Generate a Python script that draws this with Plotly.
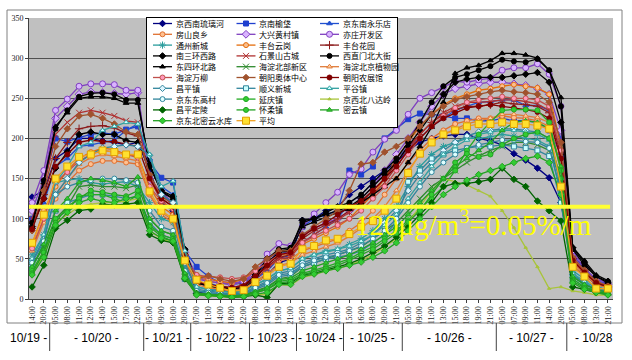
import plotly.graph_objects as go

# ---------------- data ----------------
tick_labels = ["14:00", "20:00", "05:00", "08:00", "11:00", "12:00", "14:00", "15:00", "17:00", "22:00",
               "05:00", "09:00", "10:00", "20:00", "07:00", "11:00", "14:00", "18:00", "22:00",
               "08:00", "14:00", "19:00", "21:00", "05:00", "09:00", "12:00", "20:00",
               "15:00", "16:00", "18:00", "20:00", "21:00",
               "05:00", "09:00", "11:00", "13:00", "15:00", "18:00", "19:00", "21:00",
               "05:00", "07:00", "09:00", "11:00", "14:00", "20:00",
               "05:00", "08:00", "13:00", "21:00"]
date_labels = ["10/19 -", "- 10/20 -", "- 10/21 -", "- 10/22 -", "- 10/23 -",
               "- 10/24 -", "- 10/25 -", "- 10/26 -", "- 10/27 -", "- 10/28"]
date_counts = [2, 8, 4, 5, 4, 4, 5, 8, 6, 4]

names = ["京西南琉璃河", "京南榆垡", "京东南永乐店", "房山良乡", "大兴黄村镇", "亦庄开发区",
         "通州新城", "丰台云岗", "丰台花园", "南三环西路", "石景山古城", "西直门北大街",
         "东四环北路", "海淀北部新区", "海淀北京植物园", "海淀万柳", "朝阳奥体中心", "朝阳农展馆",
         "昌平镇", "顺义新城", "平谷镇", "京东东高村", "延庆镇", "京西北八达岭",
         "昌平定陵", "怀柔镇", "密云镇", "京东北密云水库", "平均"]

s01 = [127,135,175,185,200,200,197,195,192,195, 160,120,110,50, 7,10,12,8,10,20,30,45,50, 98,100,110,115,130,140,150,160,170, 185,195,200,203,205,205,200,197, 192,181,173,163,151,120, 40,30,18,15]
s02 = [100,145,200,196,201,205,207,205,211,215, 170,151,145,60, 40,28,20,18,20,30,45,55,60, 90,100,105,110,160,155,165,200,212, 224,231,230,228,225,225,222,222, 225,222,222,220,210,180, 55,38,22,18]
s03 = [95,120,165,175,190,192,195,198,210,218, 175,140,130,55, 30,20,15,12,15,25,35,50,55, 70,80,90,100,120,130,145,160,175, 190,200,215,225,235,240,245,246, 248,248,241,241,235,200, 50,35,22,20]
s04 = [65,100,125,145,160,168,172,172,170,168, 130,105,95,45, 28,22,20,18,22,30,40,48,50, 60,65,70,75,85,95,110,130,150, 170,185,200,210,218,222,225,225, 228,226,225,222,215,160, 45,32,20,15]
s05 = [110,150,225,240,255,258,257,256,255,257, 150,133,115,58, 25,22,20,18,22,35,45,60,58, 80,88,95,100,110,125,140,160,180, 200,220,240,255,262,265,268,270, 270,268,266,262,255,210, 55,35,22,18]
s06 = [120,160,235,249,265,268,268,267,260,260, 148,133,120,60, 28,25,22,20,22,30,56,69,66, 90,106,120,133,155,162,183,199,210, 230,250,257,264,271,270,273,275, 285,288,288,293,280,240, 60,38,25,20]
s07 = [55,80,145,148,150,145,143,145,146,140, 120,100,95,40, 15,12,10,8,10,18,25,35,38, 50,55,60,62,68,75,85,100,115, 140,165,180,190,195,200,200,202, 205,203,200,198,190,130, 35,25,15,12]
s08 = [68,110,140,160,175,183,188,186,180,178, 140,115,105,48, 30,25,22,20,25,35,45,55,55, 68,75,82,90,100,115,130,150,175, 195,215,230,242,250,255,260,262, 265,267,265,263,255,190, 50,35,22,15]
s09 = [90,130,175,195,212,215,216,213,207,203, 155,125,115,55, 22,18,15,14,18,28,40,52,55, 75,85,92,100,110,120,135,150,170, 190,205,220,230,236,240,240,242, 245,243,242,240,232,180, 50,35,20,15]
s10 = [88,125,163,183,205,208,205,205,197,195, 167,135,128,62, 20,18,15,12,15,30,50,60,62, 98,100,105,110,115,125,140,155,170, 190,210,230,255,270,274,276,276, 276,278,280,282,270,220, 64,45,28,20]
s11 = [100,140,205,220,232,235,232,228,222,220, 150,122,110,50, 20,16,14,12,15,25,38,50,52, 70,80,90,98,108,118,130,145,165, 185,205,220,232,240,245,245,246, 248,248,246,243,235,185, 48,33,20,15]
s12 = [95,148,212,235,252,256,257,255,248,248, 165,135,125,60, 22,18,15,12,15,28,50,62,64, 95,100,108,115,120,130,145,160,175, 195,220,245,265,276,280,285,290, 298,296,295,299,285,240, 62,42,28,22]
s13 = [92,145,215,232,250,252,252,250,244,244, 168,133,125,58, 20,16,14,10,12,25,45,58,60, 90,96,102,108,112,120,130,140,150, 170,190,214,245,281,288,291,297, 306,306,304,300,285,251, 65,48,30,23]
s14 = [40,65,100,115,140,142,140,140,138,142, 100,85,80,35, 8,6,5,4,5,10,15,25,28, 40,45,50,55,60,65,75,85,95, 110,125,140,150,160,170,178,185, 190,195,195,192,185,150, 30,20,10,8]
s15 = [60,95,130,150,168,176,180,178,175,172, 130,108,98,45, 18,14,12,10,12,22,32,42,45, 55,60,65,70,78,88,100,115,135, 160,180,195,205,212,218,222,225, 230,230,228,226,220,165, 42,30,18,14]
s16 = [63,100,145,158,172,180,185,183,180,176, 140,122,112,50, 30,28,27,25,27,35,45,55,58, 70,78,85,92,100,110,125,140,160, 180,200,215,228,238,245,248,250, 252,250,250,248,240,185, 50,35,22,16]
s17 = [85,135,190,212,228,230,225,218,208,205, 155,128,118,55, 25,29,25,22,25,40,50,60,60, 80,90,100,110,135,168,170,183,190, 200,215,230,240,248,252,255,258, 260,258,257,255,245,195, 52,36,22,16]
s18 = [87,125,165,180,195,198,196,196,193,190, 150,125,115,52, 22,18,16,14,16,28,42,55,58, 78,88,95,105,115,122,135,150,165, 185,200,215,225,232,238,240,242, 240,238,236,233,225,175, 48,33,20,15]
s19 = [47,75,130,150,170,180,188,190,192,190, 179,130,120,45, 12,10,8,6,8,15,22,32,35, 45,50,55,58,62,70,80,95,110, 135,155,170,185,195,203,208,210, 212,212,210,208,200,140, 30,20,12,10]
s20 = [38,70,110,120,125,130,130,128,125,128, 95,80,75,25, 10,8,6,5,6,12,18,28,30, 40,45,50,52,55,60,70,80,95, 146,160,175,180,185,188,190,190, 192,190,188,185,178,120, 25,15,10,8]
s21 = [50,80,145,165,190,195,210,215,220,218, 180,140,147,60, 15,12,10,8,10,18,25,35,38, 50,55,58,62,66,72,80,92,105, 125,145,165,180,190,198,205,208, 210,210,208,205,198,150, 32,22,14,12]
s22 = [45,72,130,140,145,148,150,150,148,145, 110,90,85,35, 10,8,7,6,7,14,20,30,32, 42,48,52,55,60,66,75,85,100, 120,140,158,170,180,188,192,195, 198,198,196,195,188,135, 28,18,12,10]
s23 = [35,60,100,110,128,130,130,125,120,130, 92,80,75,30, 6,5,4,3,4,8,12,22,24, 32,36,40,45,50,58,65,75,85, 98,112,125,140,160,185,205,220, 235,236,236,235,220,160, 25,15,10,6]
s24 = [30,55,95,105,115,118,120,120,122,125, 85,75,70,28, 5,4,3,2,3,6,5,18,17, 27,30,35,38,42,48,55,65,75, 95,115,135,150,146,142,135,128, 110,89,64,40,13,15, 10,8,5,5]
s25 = [15,42,88,98,110,112,118,117,118,120, 80,73,70,25, 7,5,4,2,3,5,2,19,20, 30,32,36,40,44,50,58,66,77, 90,105,120,140,144,144,146,149, 163,149,140,122,110,97, 15,12,8,6]
s26 = [32,58,95,115,125,135,133,130,128,135, 90,78,72,28, 6,5,4,3,4,8,12,20,22, 30,34,38,42,48,55,62,72,82, 96,110,130,150,170,181,177,180, 192,200,205,208,200,150, 22,14,9,6]
s27 = [40,68,110,125,145,150,148,145,140,152, 100,85,80,32, 7,6,5,4,5,9,14,24,26, 35,40,45,50,55,62,70,80,90, 105,120,135,150,165,175,185,195, 210,220,222,220,212,165, 28,18,12,8]
s28 = [30,52,92,108,120,125,122,120,125,128, 85,76,72,26, 5,4,3,2,3,6,8,18,18, 28,31,35,38,42,46,52,60,70, 85,100,115,130,140,148,155,160, 165,170,175,178,170,130, 20,12,8,5]
s29 = [70,105,150,165,177,180,185,183,180,180, 134,110,100,48, 24,18,14,10,11,21,29,40,44, 62,66,73,75,81,90,97,110,125, 157,181,195,205,210,215,218,218, 220,218,218,216,212,140, 40,28,13,13]

series = [s01, s02, s03, s04, s05, s06, s07, s08, s09, s10, s11, s12, s13, s14, s15,
          s16, s17, s18, s19, s20, s21, s22, s23, s24, s25, s26, s27, s28, s29]

threshold = 115
threshold_text = "120μg/m<sup>3</sup>=0.05%/m"

# ---------------- styles ----------------
# (line colour, marker symbol, marker fill, marker border, marker size)
styles = [
    ("#000080", "diamond", "#000080", "#000080", 5),
    ("#1F3FCF", "square", "#1F3FCF", "#1F3FCF", 5),
    ("#2050D0", "triangle-up", "#2050D0", "#2050D0", 5),
    ("#E07030", "circle", "#FFC090", "#E07030", 5),
    ("#7F3FBF", "diamond", "#D9B3FF", "#7F3FBF", 6),
    ("#7F3FBF", "circle", "#D9B3FF", "#7F3FBF", 6),
    ("#2A9D9D", "asterisk-open", "#2A9D9D", "#2A9D9D", 6),
    ("#E46C0A", "circle", "#FAC090", "#E46C0A", 5),
    ("#8B1A1A", "cross-thin-open", "#8B1A1A", "#8B1A1A", 6),
    ("#000000", "diamond", "#000000", "#000000", 5),
    ("#B03030", "x-thin-open", "#B03030", "#B03030", 6),
    ("#000000", "circle", "#000000", "#000000", 5),
    ("#000000", "triangle-up", "#000000", "#000000", 5),
    ("#2E8B2E", "x-thin-open", "#2E8B2E", "#2E8B2E", 6),
    ("#E07B39", "triangle-up", "#FFD0A0", "#E07B39", 5),
    ("#C0504D", "circle", "#FF99BB", "#C0504D", 5),
    ("#A0522D", "diamond", "#A0522D", "#A0522D", 5),
    ("#800000", "circle", "#800000", "#800000", 5),
    ("#31859C", "diamond", "#DDF5FF", "#31859C", 5),
    ("#31859C", "square", "#CCFFFF", "#31859C", 5),
    ("#31A0A0", "triangle-up", "#CCFFFF", "#31A0A0", 5),
    ("#31859C", "circle", "#E0FFFF", "#31859C", 5),
    ("#22AA22", "circle", "#33CC33", "#22AA22", 5),
    ("#A8C43A", "triangle-up", "#A8C43A", "#A8C43A", 3),
    ("#006400", "diamond", "#006400", "#006400", 5),
    ("#22A022", "circle", "#33CC33", "#22A022", 5),
    ("#22A022", "triangle-up", "#33CC33", "#22A022", 5),
    ("#22A022", "diamond", "#33CC33", "#22A022", 5),
    ("#F0A020", "square", "#FFE030", "#E0A000", 7),
]

W, H = 632, 360
ML, MR, MT, MB = 29, 19, 18, 61
XR = [-0.26, 49.43]
pw = W - ML - MR
ph = H - MT - MB
ppu = pw / (XR[1] - XR[0])


def px_to_paper_x(px):
    return (px - ML) / pw


def px_to_paper_y(py):
    return (H - MB - py) / ph


def px_to_data_x(px):
    return XR[0] + (px - ML) / ppu


def data_to_paper_x(x):
    return (x - XR[0]) / (XR[1] - XR[0])


fig = go.Figure()
idx = list(range(len(tick_labels)))

for name, vals, st in zip(names, series, styles):
    lc, sym, fc, bc, sz = st
    fig.add_trace(go.Scatter(
        x=idx, y=vals, mode="lines+markers", name=name,
        line=dict(color=lc, width=1.3),
        marker=dict(symbol=sym, size=sz, color=fc, line=dict(color=bc, width=1)),
        showlegend=False, hoverinfo="skip"))

# ---------------- custom legend (3 columns, row-major) ----------------
col_w = 83.5
row_h = 10.8
annotations = []
for k, (name, st) in enumerate(zip(names, styles)):
    r, c = divmod(k, 3)
    lc, sym, fc, bc, sz = st
    yy = 5.5 + row_h * r
    x0 = 6 + col_w * c
    fig.add_trace(go.Scatter(
        x=[x0, x0 + 9.5, x0 + 19], y=[yy, yy, yy], mode="lines+markers",
        xaxis="x2", yaxis="y2",
        line=dict(color=lc, width=1.3),
        marker=dict(symbol=sym, size=sz, color=fc, line=dict(color=bc, width=1),
                    opacity=[0, 1, 0]),
        showlegend=False, hoverinfo="skip"))
    annotations.append(dict(x=x0 + 20.5, y=yy, xref="x2", yref="y2", text=name,
                            showarrow=False, xanchor="left", yanchor="middle",
                            font=dict(family="Noto Sans CJK SC", size=8, color="#000")))

# ---------------- shapes ----------------
shapes = []
# grey plot area
shapes.append(dict(type="rect", xref="paper", yref="paper", x0=0, x1=1, y0=0, y1=1,
                   fillcolor="#C0C0C0", line=dict(width=0), layer="below"))
# chart border
bl, br, bt, bb = 7, 622, 10, 323
shapes.append(dict(type="rect", xref="paper", yref="paper",
                   x0=px_to_paper_x(bl), x1=px_to_paper_x(br),
                   y0=px_to_paper_y(bb), y1=px_to_paper_y(bt),
                   line=dict(color="#808080", width=1), fillcolor="rgba(0,0,0,0)", layer="above"))
# threshold line
shapes.append(dict(type="line", xref="x domain", yref="y", x0=0, x1=0.995, y0=threshold, y1=threshold,
                   line=dict(color="#FFFF33", width=4), layer="above"))

# date row separators and labels
edges = [px_to_data_x(bl)]
cum = 0
for n in date_counts[:-1]:
    cum += n
    edges.append(cum - 0.5)
edges.append(px_to_data_x(br))
for e in edges[1:-1]:
    shapes.append(dict(type="line", xref="paper", yref="paper",
                       x0=data_to_paper_x(e), x1=data_to_paper_x(e),
                       y0=px_to_paper_y(bb), y1=px_to_paper_y(351),
                       line=dict(color="#404040", width=1), layer="above"))
for lab, a, b in zip(date_labels, edges[:-1], edges[1:]):
    annotations.append(dict(x=data_to_paper_x((a + b) / 2), y=px_to_paper_y(338),
                            xref="paper", yref="paper",
                            text=lab, showarrow=False, xanchor="center", yanchor="middle",
                            font=dict(family="Liberation Sans", size=12, color="#000")))

annotations.append(dict(x=px_to_paper_x(473), y=px_to_paper_y(223), xref="paper", yref="paper",
                        text=threshold_text, showarrow=False, xanchor="center", yanchor="middle",
                        font=dict(family="Liberation Serif", size=29, color="#FFFF00")))

tickfont = dict(family="Liberation Serif", size=8, color="#222")
fig.update_layout(
    width=W, height=H, margin=dict(l=ML, r=MR, t=MT, b=MB),
    paper_bgcolor="white", plot_bgcolor="white", showlegend=False,
    xaxis=dict(range=XR, tickmode="array", tickvals=idx, ticktext=tick_labels, tickangle=-90,
               tickfont=tickfont, showgrid=False, zeroline=False, showline=True,
               linecolor="#404040", ticks="outside", ticklen=3, tickcolor="#404040"),
    yaxis=dict(range=[0, 350], dtick=50, tickfont=tickfont, showgrid=True,
               gridcolor="#505050", gridwidth=1, zeroline=False, showline=True,
               linecolor="#404040", ticks="outside", ticklen=3, tickcolor="#404040"),
    xaxis2=dict(domain=[px_to_paper_x(147), px_to_paper_x(397)], range=[0, 250], anchor="y2",
                showgrid=False, zeroline=False, showticklabels=False, showline=True,
                mirror=True, linecolor="#000000", linewidth=1, ticks=""),
    yaxis2=dict(domain=[px_to_paper_y(127), 1.0], range=[109, 0], anchor="x2",
                showgrid=False, zeroline=False, showticklabels=False, showline=True,
                mirror=True, linecolor="#000000", linewidth=1, ticks=""),
    shapes=shapes, annotations=annotations,
)

fig.write_html("out.html", config={"displayModeBar": False},
               post_script="document.body.style.margin='0';")
